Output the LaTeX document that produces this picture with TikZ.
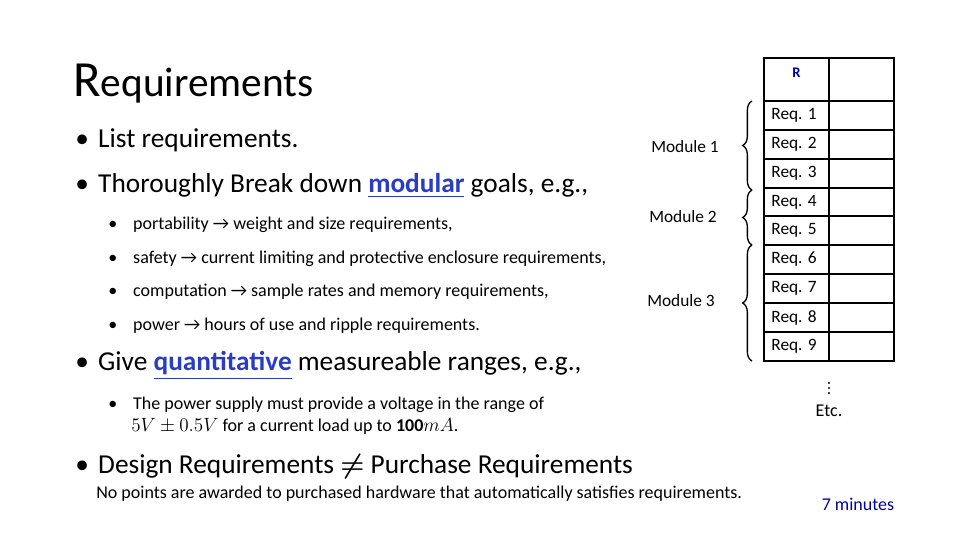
\documentclass[tikz,border=0pt]{standalone}
\usepackage{amsmath}
\usepackage{fontspec}
\setmainfont{Carlito}
\usetikzlibrary{decorations.pathreplacing}
\definecolor{blu}{RGB}{40,60,200}
\definecolor{navy}{RGB}{0,0,160}
\begin{document}
\begin{tikzpicture}[x=0.75pt,y=-0.75pt,
  big/.style={anchor=west,font=\fontsize{20.5}{22}\selectfont,inner sep=0},
  small/.style={anchor=west,font=\fontsize{13.5}{15}\selectfont,inner sep=0},
  cell/.style={font=\fontsize{13}{15}\selectfont,inner sep=0},
  dot/.style={fill,circle,inner sep=0,minimum size=1.6pt},
  br/.style={decorate,decoration={brace,amplitude=7pt,mirror},line width=1pt}]
\useasboundingbox (0,0) rectangle (960,540);
\node[anchor=west,inner sep=0] (title) at (73,84) {\fontsize{38}{40}\selectfont R\fontsize{31}{33}\selectfont equirements};
\node[big] (b1) at (75,140) {•\hspace{7pt}List requirements.};
\node[big] (b2) at (75,186) {•\hspace{7pt}Thoroughly Break down \textcolor{blu}{\textbf{\underline{modular}}} goals, e.g.,};
\node[small] (s1) at (108,225) {•\hspace{12pt}portability → weight and size requirements,};
\node[small] (s2) at (108,259) {•\hspace{12pt}safety → current limiting and protective enclosure requirements,};
\node[small] (s3) at (108,292) {•\hspace{12pt}computation → sample rates and memory requirements,};
\node[small] (s4) at (108,326) {•\hspace{12pt}power → hours of use and ripple requirements.};
\node[big] (b3) at (75,366) {•\hspace{7pt}Give \textcolor{blu}{\textbf{\underline{quantitative}}} measureable ranges, e.g.,};
\node[small] (s5) at (108,405) {•\hspace{12pt}The power supply must provide a voltage in the range of};
\node[small] (s6) at (131,426) {$5V\pm0.5V$ for a current load up to $\mathbf{100}mA$.};
\node[big] (b4) at (75,467) {•\hspace{7pt}Design Requirements $\boldsymbol{\neq}$ Purchase Requirements};
\node[small] (s7) at (96,494) {No points are awarded to purchased hardware that automatically satisfies requirements.};
% table
\draw[line width=1pt] (764,58) rectangle (894,361);
\draw[line width=1pt] (829,58) -- (829,361);
\foreach \y in {101,130,159,188,216,245,274,303,332} \draw[line width=1pt] (764,\y) -- (894,\y);
\node[cell,text=navy,font=\fontsize{11}{13}\selectfont] (hR) at (796.5,73) {\textbf{R}};
\foreach \i/\y in {1/115.5,2/144.5,3/173.5,4/202,5/230.5,6/259.5,7/288.5,8/317.5,9/346.5}
  \node[cell] (r\i) at (794,\y) {Req. \i};
\draw[br] (752,101) -- (752,190);
\draw[br] (752,190) -- (752,245);
\draw[br] (752,245) -- (752,361);
\node[cell] (m1) at (685,147) {Module 1};
\node[cell] (m2) at (683,217) {Module 2};
\node[cell] (m3) at (681,301) {Module 3};
\foreach \y in {383,388,393} \node[dot] at (829,\y) {};
\node[cell,font=\fontsize{13.5}{15}\selectfont] (etc) at (829,411) {Etc.};
\node[cell,font=\fontsize{13.5}{15}\selectfont,text=navy] (time) at (858,504) {7 minutes};
\end{tikzpicture}
\end{document}
